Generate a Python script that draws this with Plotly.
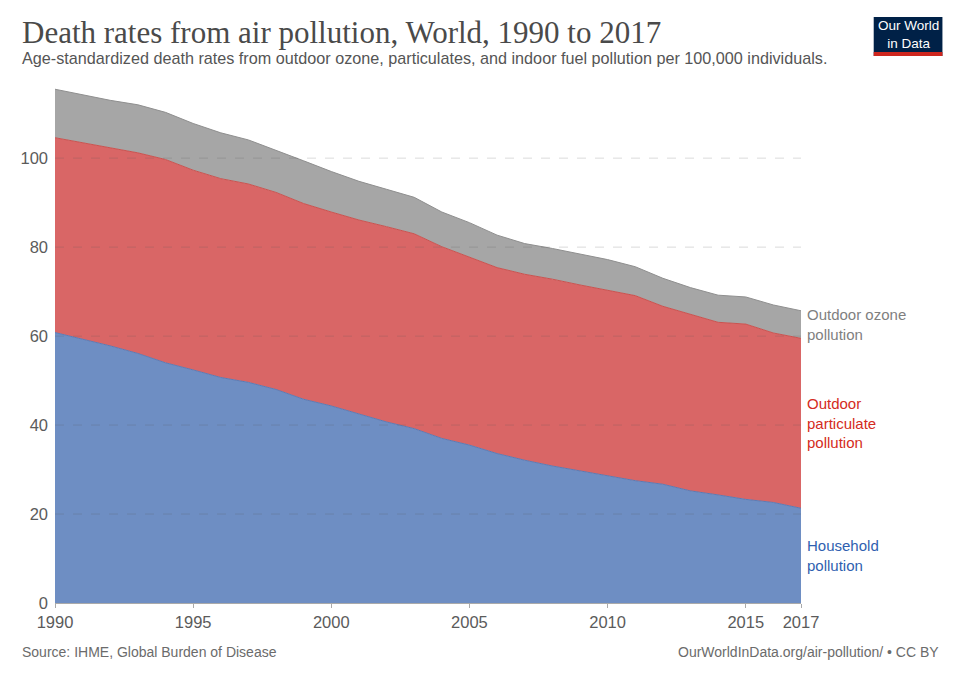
import plotly.graph_objects as go

years = list(range(1990, 2018))

household = [60.8, 59.3, 57.8, 56.1, 54.0, 52.4, 50.7, 49.6, 48.0, 45.8,
             44.3, 42.5, 40.7, 39.2, 37.0, 35.5, 33.6, 32.1, 30.8, 29.7,
             28.6, 27.5, 26.7, 25.2, 24.3, 23.3, 22.6, 21.3]
particulate = [43.8, 44.2, 44.5, 45.1, 45.7, 44.9, 44.7, 44.6, 44.3, 44.0,
               43.6, 43.6, 43.9, 43.8, 43.1, 42.3, 41.8, 41.8, 42.0, 41.8,
               41.7, 41.6, 40.0, 39.7, 38.8, 39.4, 38.1, 38.2]
ozone = [10.9, 10.7, 10.7, 10.8, 10.6, 10.5, 10.3, 9.9, 9.5, 9.6,
         9.1, 8.7, 8.4, 8.2, 7.8, 7.7, 7.3, 6.9, 6.9, 6.9,
         6.9, 6.5, 6.3, 6.0, 6.1, 6.1, 6.3, 6.2]

x_ticks = [1990, 1995, 2000, 2005, 2010, 2015, 2017]
y_ticks = [0, 20, 40, 60, 80, 100]

sans = "Liberation Sans"
serif = "Liberation Serif"


# window pixel -> paper coords (plot area spans x 52..801, y 603..87)
def px(x):
    return (x - 52) / 749


def py(y):
    return (603 - y) / 516


fig = go.Figure()
series = [
    ("Household pollution", household, "#6e8ec3", "#5a7bb5"),
    ("Outdoor particulate pollution", particulate, "#d96666", "#c9524f"),
    ("Outdoor ozone pollution", ozone, "#a6a6a6", "#8f8f8f"),
]
for name, vals, fill, edge in series:
    fig.add_trace(go.Scatter(x=years, y=vals, name=name, mode="lines",
                             stackgroup="one", fillcolor=fill,
                             line=dict(color=edge, width=1)))

# dashed gridlines drawn over the areas, like the original
for v in y_ticks[1:]:
    fig.add_shape(type="line", xref="paper", x0=0, x1=1, yref="y", y0=v, y1=v,
                  line=dict(color="rgba(90,90,90,0.22)", width=1, dash="dash"),
                  layer="above")

# logo box
fig.add_shape(type="rect", xref="paper", yref="paper",
              x0=px(874), x1=px(943), y0=py(56), y1=py(17),
              fillcolor="#002147", line=dict(width=0), layer="above")
fig.add_shape(type="rect", xref="paper", yref="paper",
              x0=px(874), x1=px(943), y0=py(56), y1=py(52),
              fillcolor="#ce261e", line=dict(width=0), layer="above")

# end labels
end_labels = [
    ("Outdoor ozone<br>pollution", 62.7, "#7f7f7f"),
    ("Outdoor<br>particulate<br>pollution", 40.4, "#d42b21"),
    ("Household<br>pollution", 10.6, "#2f5fb0"),
]
for txt, yv, col in end_labels:
    fig.add_annotation(x=1, xref="paper", y=yv, yref="y", text=txt,
                       showarrow=False, xanchor="left", yanchor="middle",
                       xshift=4, align="left",
                       font=dict(family=sans, size=15, color=col))

texts = [
    ("Death rates from air pollution, World, 1990 to 2017", px(17), py(32),
     "left", dict(family=serif, size=31, color="#4a4a4a")),
    ("Age-standardized death rates from outdoor ozone, particulates, and indoor fuel pollution per 100,000 individuals.",
     px(17), py(58), "left", dict(family=sans, size=16.2, color="#555555")),
    ("Source: IHME, Global Burden of Disease", px(17), py(652), "left",
     dict(family=sans, size=14, color="#6b6b6b")),
    ("OurWorldInData.org/air-pollution/ • CC BY", px(942), py(652), "right",
     dict(family=sans, size=14, color="#6b6b6b")),
    ("Our World<br>in Data", px(908.5), py(34), "center",
     dict(family=sans, size=13.5, color="white")),
]
for txt, xx, yy, anchor, fnt in texts:
    fig.add_annotation(text=txt, x=xx, y=yy, xref="paper", yref="paper",
                       xanchor=anchor, yanchor="middle", showarrow=False,
                       font=fnt)

# page body has an 8px margin, so the figure is 8px smaller each way
fig.update_layout(
    width=952, height=670,
    margin=dict(l=44, r=159, t=79, b=75),
    paper_bgcolor="white", plot_bgcolor="white",
    showlegend=False,
    xaxis=dict(range=[1990, 2017], tickvals=x_ticks, showgrid=False,
               showline=True, linecolor="#aaaaaa", ticks="outside",
               ticklen=4, tickcolor="#aaaaaa",
               tickfont=dict(family=sans, size=16.5, color="#5b5b5b")),
    yaxis=dict(range=[0, 116], tickvals=y_ticks, showgrid=False,
               zeroline=False, ticks="", ticklabelstandoff=6,
               tickfont=dict(family=sans, size=16.5, color="#5b5b5b")),
)

fig.write_html("out.html")
